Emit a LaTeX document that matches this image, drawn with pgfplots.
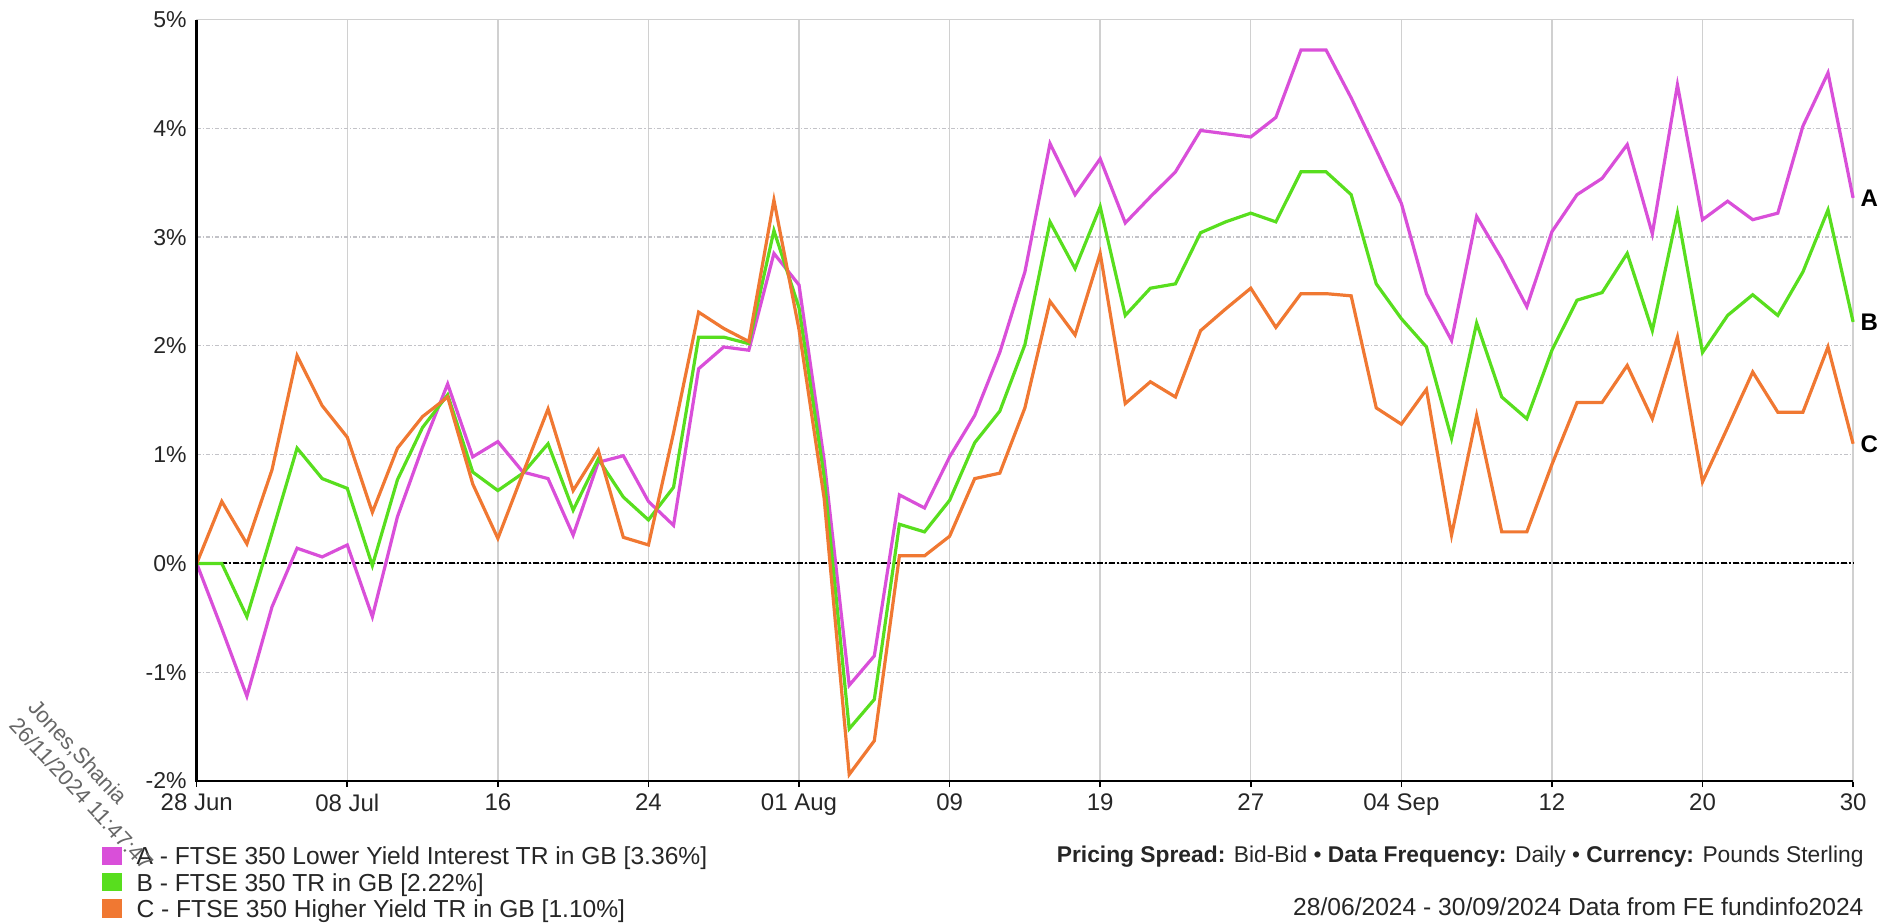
\documentclass[border=0pt]{standalone}
\usepackage{fontspec}
\setmainfont{Liberation Sans}
\usepackage{pgfplots}
\pgfplotsset{compat=1.18}
\definecolor{colA}{RGB}{217,79,217}
\definecolor{colB}{RGB}{88,222,30}
\definecolor{colC}{RGB}{240,120,50}
\definecolor{gridv}{RGB}{208,208,208}
\definecolor{gridh}{RGB}{195,195,200}
\begin{document}
\begin{tikzpicture}
\useasboundingbox (-98.35pt,-71pt) rectangle (843.65pt,390.5pt);
\begin{axis}[
  at={(0pt,0pt)}, anchor=south west,
  scale only axis, width=828.2pt, height=380.75pt,
  xmin=0, xmax=66, ymin=-2, ymax=5,
  clip=false,
  axis line style={draw=gridv, line width=0.7pt},
  xtick={0,6,...,66},
  xticklabels={28 Jun,08 Jul,16,24,01 Aug,09,19,27,04 Sep,12,20,30},
  ytick={-2,-1,0,1,2,3,4,5},
  yticklabels={-2\%,-1\%,0\%,1\%,2\%,3\%,4\%,5\%},
  xtick pos=left, ytick pos=left,
  tick align=outside,
  major tick length=3pt,
  xtick style={black, line width=0.8pt},
  ytick style={draw=none},
  xmajorgrids, ymajorgrids,
  x grid style={gridv, line width=0.7pt},
  y grid style={gridh, line width=0.6pt, dash pattern=on 2pt off 1pt on 0.6pt off 1pt},
  ticklabel style={font=\fontsize{12}{14}\selectfont, text=black!85},
  yticklabel style={font=\fontsize{11.5}{14}\selectfont, xshift=1.5pt},
  legend style={at={(axis description cs:0,0)}, anchor=north west, xshift=-47.35pt, yshift=-32.6pt,
    draw=none, fill=none, inner sep=0pt, row sep=2.7pt, column sep=7.5pt,
    font=\fontsize{12.3}{14}\selectfont, nodes={inner sep=0pt, text=black!85}},
  legend cell align=left,
  legend image code/.code={\fill[#1] (0pt,-3pt) rectangle (8pt,4.5pt);},
]
\draw[black, line width=1pt, dash pattern=on 3pt off 1pt on 1pt off 1pt] (axis cs:0,0) -- (axis cs:66,0);

\addplot[colA, line width=1.6pt] coordinates {
(0,0)(1,-0.60)(2,-1.22)(3,-0.40)(4,0.14)(5,0.06)(6,0.17)(7,-0.49)(8,0.43)(9,1.07)(10,1.65)(11,0.98)(12,1.12)(13,0.84)(14,0.78)(15,0.26)(16,0.93)(17,0.99)(18,0.57)(19,0.35)(20,1.79)(21,1.99)(22,1.96)(23,2.85)(24,2.56)(25,0.95)(26,-1.12)(27,-0.85)(28,0.63)(29,0.51)(30,0.98)(31,1.36)(32,1.94)(33,2.68)(34,3.86)(35,3.39)(36,3.72)(37,3.13)(38,3.37)(39,3.60)(40,3.98)(41,3.95)(42,3.92)(43,4.10)(44,4.72)(45,4.72)(46,4.28)(47,3.80)(48,3.31)(49,2.48)(50,2.05)(51,3.19)(52,2.80)(53,2.36)(54,3.05)(55,3.39)(56,3.54)(57,3.85)(58,3.03)(59,4.40)(60,3.16)(61,3.33)(62,3.16)(63,3.22)(64,4.02)(65,4.51)(66,3.36)
} node[pos=1, anchor=west, xshift=2pt, inner sep=1pt, text=black, font=\bfseries\fontsize{12}{14}\selectfont] {A};
\addlegendentry{A - FTSE 350 Lower Yield Interest TR in GB [3.36\%]}

\addplot[colB, line width=1.6pt] coordinates {
(0,0)(1,0)(2,-0.49)(3,0.28)(4,1.06)(5,0.78)(6,0.69)(7,-0.02)(8,0.77)(9,1.25)(10,1.55)(11,0.84)(12,0.67)(13,0.83)(14,1.10)(15,0.49)(16,0.96)(17,0.61)(18,0.40)(19,0.70)(20,2.08)(21,2.08)(22,2.02)(23,3.06)(24,2.35)(25,0.80)(26,-1.52)(27,-1.25)(28,0.36)(29,0.29)(30,0.58)(31,1.11)(32,1.40)(33,2.01)(34,3.14)(35,2.71)(36,3.28)(37,2.28)(38,2.53)(39,2.57)(40,3.04)(41,3.14)(42,3.22)(43,3.14)(44,3.60)(45,3.60)(46,3.39)(47,2.57)(48,2.25)(49,1.99)(50,1.15)(51,2.21)(52,1.53)(53,1.33)(54,1.96)(55,2.42)(56,2.49)(57,2.85)(58,2.14)(59,3.22)(60,1.94)(61,2.28)(62,2.47)(63,2.28)(64,2.68)(65,3.25)(66,2.22)
} node[pos=1, anchor=west, xshift=2pt, inner sep=1pt, text=black, font=\bfseries\fontsize{12}{14}\selectfont] {B};
\addlegendentry{B - FTSE 350 TR in GB [2.22\%]}

\addplot[colC, line width=1.6pt] coordinates {
(0,0)(1,0.57)(2,0.18)(3,0.86)(4,1.91)(5,1.45)(6,1.16)(7,0.47)(8,1.06)(9,1.35)(10,1.53)(11,0.73)(12,0.23)(13,0.83)(14,1.42)(15,0.67)(16,1.04)(17,0.24)(18,0.17)(19,1.20)(20,2.31)(21,2.16)(22,2.04)(23,3.34)(24,2.15)(25,0.60)(26,-1.94)(27,-1.63)(28,0.07)(29,0.07)(30,0.25)(31,0.78)(32,0.83)(33,1.43)(34,2.41)(35,2.10)(36,2.85)(37,1.47)(38,1.67)(39,1.53)(40,2.14)(41,2.34)(42,2.53)(43,2.17)(44,2.48)(45,2.48)(46,2.46)(47,1.43)(48,1.28)(49,1.60)(50,0.26)(51,1.36)(52,0.29)(53,0.29)(54,0.91)(55,1.48)(56,1.48)(57,1.82)(58,1.33)(59,2.08)(60,0.75)(61,1.25)(62,1.76)(63,1.39)(64,1.39)(65,1.99)(66,1.10)
} node[pos=1, anchor=west, xshift=2pt, inner sep=1pt, text=black, font=\bfseries\fontsize{12}{14}\selectfont] {C};
\addlegendentry{C - FTSE 350 Higher Yield TR in GB [1.10\%]}

\draw[black, line width=1.2pt] (rel axis cs:0,1) -- (rel axis cs:0,0) -- (rel axis cs:1,0);
\end{axis}
\node[anchor=base east, inner sep=0pt, font=\fontsize{11.4}{14}\selectfont, text=black!85] at (833.6pt,-40.5pt)
  {\textbf{Pricing Spread:} Bid-Bid • \textbf{Data Frequency:} Daily • \textbf{Currency:} Pounds Sterling};
\node[anchor=base east, inner sep=0pt, font=\fontsize{12.3}{14}\selectfont, text=black!85] at (833.6pt,-67pt)
  {28/06/2024 - 30/09/2024 Data from FE fundinfo2024};
\node[rotate=-47, anchor=north west, inner sep=0pt, align=left, font=\fontsize{11}{13}\selectfont, text=black!60] at (-79pt,42pt)
  {Jones,Shania\\26/11/2024 11:47:47};
\end{tikzpicture}
\end{document}
